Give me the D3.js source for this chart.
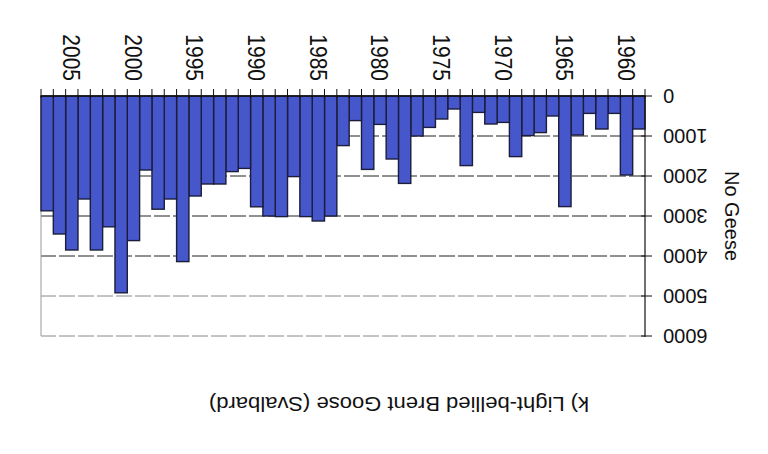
<!DOCTYPE html>
<html>
<head>
<meta charset="utf-8">
<script src="https://cdn.jsdelivr.net/npm/d3@7"></script>
<style>
  body { margin: 0; background: #fff; }
  text { font-family: "Liberation Sans", Arial, sans-serif; fill: #111; }
</style>
</head>
<body>
<div class="display"></div>
<script>
// The scanned figure is upside down, so the chart is drawn normally and the whole thing turned 180 degrees

const WIDTH = 768;
const HEIGHT = 454;

const years = d3.range(1959, 2008);
const geese = [
  825, 1975, 435, 825, 435, 975, 2765, 500, 915, 990,
  1515, 660, 700, 410, 1740, 325, 575, 785, 1000, 2185,
  1575, 710, 1835, 615, 1240, 3000, 3125, 3015, 2015, 3015,
  3000, 2770, 1810, 1890, 2200, 2200, 2500, 4140, 2575, 2830,
  1850, 3615, 4920, 3270, 3850, 2575, 3850, 3450, 2870
];
const yTicks = [0, 1000, 2000, 3000, 4000, 5000, 6000];
const labelYears = [1960, 1965, 1970, 1975, 1980, 1985, 1990, 1995, 2000, 2005];
const title = 'k) Light-bellied Brent Goose (Svalbard)';
const yTitle = 'No Geese';

let svg, chart, x, y;

function setupSvg() {
  svg = d3.select('.display')
    .append('svg')
    .attr('width', WIDTH)
    .attr('height', HEIGHT);

  chart = svg.append('g')
    .attr('transform', `rotate(180, ${WIDTH / 2}, ${HEIGHT / 2})`);
}

function drawChart() {
  x = d3.scaleBand()
    .domain(years)
    .range([123, 727])
    .padding(0);

  y = d3.scaleLinear()
    .domain([0, 6000])
    .range([358, 118]);

  // gridlines
  chart.append('g')
    .selectAll('line')
    .data(yTicks.filter(d => d > 0))
    .enter()
    .append('line')
    .attr('x1', x.range()[0])
    .attr('x2', x.range()[1])
    .attr('y1', d => y(d))
    .attr('y2', d => y(d))
    .attr('stroke', (d, i) => i < 4 ? '#222' : '#888')
    .attr('stroke-width', 1)
    .attr('stroke-dasharray', '16,3');

  // left edge of the plot area (right side once turned)
  chart.append('line')
    .attr('x1', x.range()[1]).attr('x2', x.range()[1])
    .attr('y1', y(0)).attr('y2', y(6000))
    .attr('stroke', '#999');

  chart.append('g')
    .selectAll('rect')
    .data(geese)
    .enter()
    .append('rect')
    .attr('x', (d, i) => x(years[i]))
    .attr('y', d => y(d))
    .attr('width', x.bandwidth())
    .attr('height', d => y(0) - y(d))
    .attr('fill', '#4657cc')
    .attr('stroke', '#1b1d3a')
    .attr('stroke-width', 1.4);

  // x axis: line at zero and a tick at each bar edge
  const xAxis = chart.append('g');
  xAxis.append('line')
    .attr('x1', x.range()[0]).attr('x2', x.range()[1])
    .attr('y1', y(0)).attr('y2', y(0))
    .attr('stroke', '#111').attr('stroke-width', 1.5);
  xAxis.selectAll('.tick')
    .data(years.concat([2008]))
    .enter()
    .append('line')
    .attr('x1', (d, i) => x.range()[0] + i * x.step())
    .attr('x2', (d, i) => x.range()[0] + i * x.step())
    .attr('y1', y(0) - 2)
    .attr('y2', y(0) + 7)
    .attr('stroke', '#111');
  xAxis.selectAll('text')
    .data(labelYears)
    .enter()
    .append('text')
    .attr('transform', d => `translate(${x(d) + x.bandwidth() / 2}, ${y(0) + 15}) rotate(-90) scale(1, 1.15)`)
    .attr('text-anchor', 'end')
    .attr('dy', '0.36em')
    .attr('font-size', 21)
    .text(d => d);

  // y axis
  const yAxis = chart.append('g');
  yAxis.append('line')
    .attr('x1', x.range()[0]).attr('x2', x.range()[0])
    .attr('y1', y(0)).attr('y2', y(6000) - 1)
    .attr('stroke', '#111').attr('stroke-width', 1.2);
  yAxis.selectAll('line.tick')
    .data(yTicks)
    .enter()
    .append('line')
    .attr('class', 'tick')
    .attr('x1', x.range()[0] - 7)
    .attr('x2', x.range()[0] + 4)
    .attr('y1', d => y(d))
    .attr('y2', d => y(d))
    .attr('stroke', '#111');
  yAxis.selectAll('text')
    .data(yTicks)
    .enter()
    .append('text')
    .attr('x', 105)
    .attr('y', d => y(d))
    .attr('dy', '0.36em')
    .attr('text-anchor', 'end')
    .attr('font-size', 20)
    .text(d => d);

  chart.append('text')
    .attr('transform', 'translate(36, 238) rotate(-90)')
    .attr('text-anchor', 'middle')
    .attr('dy', '0.36em')
    .attr('font-size', 20)
    .text(yTitle);

  chart.append('text')
    .attr('transform', 'translate(369, 57) scale(1.1, 1)')
    .attr('text-anchor', 'middle')
    .attr('font-size', 20)
    .text(title);
}

setupSvg();
drawChart();
</script>
</body>
</html>
